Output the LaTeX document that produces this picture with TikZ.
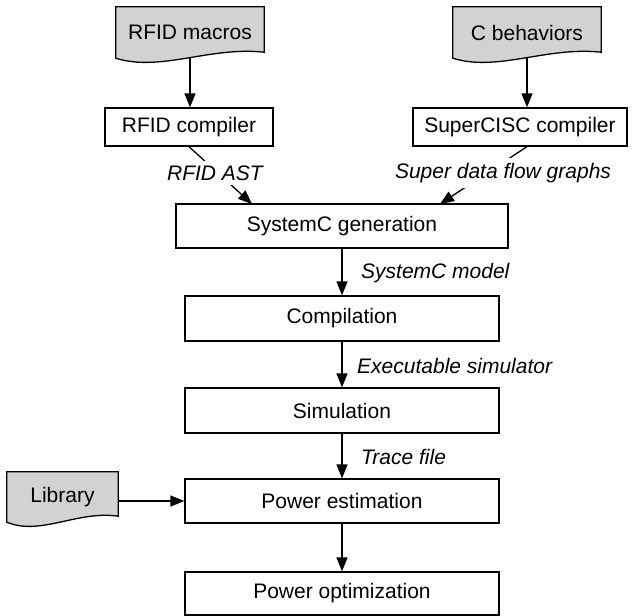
\documentclass[tikz,border=0pt]{standalone}
\usepackage{fontspec}
\setmainfont{Liberation Sans}
\usetikzlibrary{arrows.meta,calc,backgrounds}
\newcommand{\docshape}[2]{%
  \filldraw[docfill] ($(#1.south west)$) -- (#1.north west) -- (#1.north east) --
    ($(#1.south east)+(0,-6)$) .. controls ($(#1.south)+(0.27*#2,-12)$) and ($(#1.south)+(-0.4*#2,14)$) .. (#1.south west) -- cycle;}
\begin{document}
\begin{tikzpicture}[x=1pt,y=-1pt,
  font=\fontsize{21}{25}\selectfont,
  box/.style={draw,line width=1.3pt,inner sep=0pt},
  docnode/.style={inner sep=0pt},
  docfill/.style={fill=gray!35,draw=black,line width=1.3pt},
  arr/.style={line width=1.3pt,-{Triangle[length=14pt,width=11pt]}},
  lab/.style={font=\fontsize{21}{25}\selectfont\itshape,inner sep=1pt},
  cover/.style={fill=white,inner xsep=1pt,inner ysep=5pt},
]
\useasboundingbox (0,0) rectangle (635,616);
% documents
\node[docnode,minimum width=148pt,minimum height=51pt] (mac) at (190,32.5) {RFID macros};
\node[docnode,minimum width=148pt,minimum height=51pt] (beh) at (527,32.5) {C behaviors};
\node[docnode,minimum width=111pt,minimum height=50pt] (lib) at (62.5,497) {Library};
\begin{pgfonlayer}{background}
\docshape{mac}{74}
\docshape{beh}{74}
\docshape{lib}{55.5}
\end{pgfonlayer}
% boxes
\node[box,minimum width=168pt,minimum height=38pt] (rc) at (189,127) {RFID compiler};
\node[box,minimum width=214pt,minimum height=38pt] (sc) at (520,127) {SuperCISC compiler};
\node[box,minimum width=332pt,minimum height=44pt] (gen) at (342,226) {SystemC generation};
\node[box,minimum width=314pt,minimum height=45pt] (comp) at (342,318.5) {Compilation};
\node[box,minimum width=314pt,minimum height=45pt] (sim) at (342,410.5) {Simulation};
\node[box,minimum width=314pt,minimum height=44pt] (pe) at (342,501) {Power estimation};
\node[box,minimum width=314pt,minimum height=43pt] (po) at (342,593.5) {Power optimization};
% connector ends
\coordinate (g1) at (252,204);
\coordinate (g2) at (440,204);
% connectors
\draw[arr] (mac.south) -- (mac.south |- rc.north);
\draw[arr] (beh.south) -- (beh.south |- sc.north);
\draw[arr] (rc.south) -- (g1);
\draw[arr] (sc.south -| beh.south) -- (g2);
\draw[arr] (gen.south) -- (comp.north);
\draw[arr] (comp.south) -- (sim.north);
\draw[arr] (sim.south) -- (pe.north);
\draw[arr] (pe.south) -- (po.north);
\draw[arr] (lib.east |- pe.west) -- (pe.west);
% labels
\node[lab,cover] (l1) at (215,173) {RFID AST};
\node[lab,cover] (l2) at (503,173) {Super data flow graphs};
\node[lab,anchor=west] (l3) at (360,273) {SystemC model};
\node[lab,anchor=west] (l4) at (356,366) {Executable simulator};
\node[lab,anchor=west] (l5) at (360,457) {Trace file};
\end{tikzpicture}
\end{document}
